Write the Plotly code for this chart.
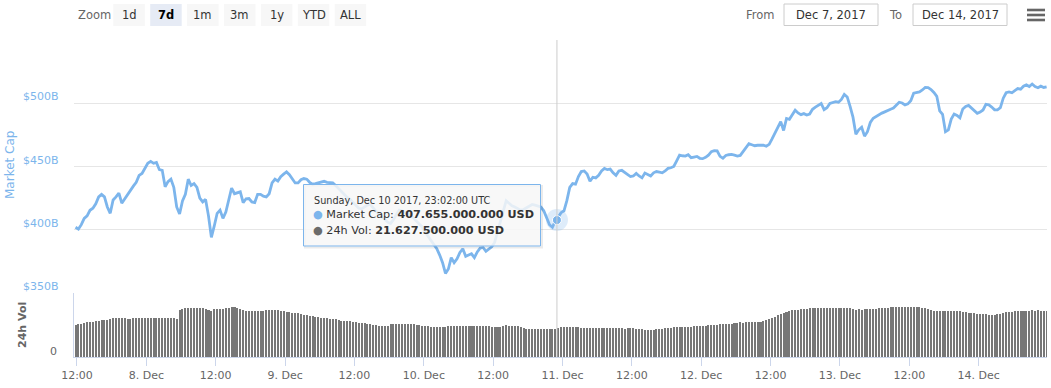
import pandas as pd
import plotly.graph_objects as go

# ---------------- data ----------------
start_time = "2017-12-07 11:45"   # first sample, 30-minute spacing

# Market cap in billions USD (30-min samples)
mcap_b = [
    402, 400.5, 404, 409, 411, 415.4, 417, 420.5, 426, 428,
    426, 418, 413, 423.5, 426, 429, 421, 424.5, 428.5, 432,
    434.5, 437.5, 443, 444.5, 449, 452.5, 454, 452.5, 453.2, 447.5,
    447, 434, 438, 440, 433.5, 418, 412.5, 422.8, 428, 440,
    435, 436.5, 433.5, 425, 422, 424, 411, 394, 403, 413,
    415.5, 409, 414, 424, 433, 428.5, 429, 430, 421.5, 424.5,
    424.7, 422, 421.5, 428, 428, 426.5, 426, 428.5, 437, 440,
    438.5, 442, 444, 445.7, 443.5, 440.5, 437, 437, 439.5, 440.5,
    440, 437.5, 436, 436.5, 437, 438, 438.3, 437.5, 437, 437,
    435, 432.5, 430.5, 428, 425.5, 424, 421.5, 419, 417, 416.5,
    418, 419.5, 420, 417, 414.5, 412.5, 410.5, 408, 406, 405,
    408, 412, 415.5, 415, 414, 413, 411.5, 409, 406.5, 404.5,
    402, 398, 394.5, 391, 388.5, 385, 380, 374, 365.5, 369,
    378, 374, 377, 382, 385, 379, 380, 381, 378, 382.5,
    385.5, 386, 383, 384.5, 386.5, 390, 398, 406, 415, 423,
    421, 419, 418, 417, 415.5, 416, 417.5, 419, 420, 419.5,
    419, 418, 415, 409, 404, 402, 407, 410, 413.5, 415,
    423, 433.5, 436.5, 436, 442, 446, 446.5, 444, 438.3, 441.5,
    441, 443, 446.5, 448.5, 447.5, 448, 445, 443, 446.5, 447,
    445.5, 444, 442, 442.5, 444.5, 442.5, 441, 444.8, 443.5, 442.5,
    445, 446, 445.5, 445, 446.5, 448.5, 449, 450, 454.5, 459,
    458.5, 458.2, 459.3, 457, 457.5, 458, 456.5, 456.2, 457.2, 459,
    461.7, 462.5, 462.3, 458, 456.5, 458.7, 459.3, 459.5, 459, 458.3,
    458.8, 462, 465.8, 468, 467.2, 466.4, 466.8, 467, 466.8, 466,
    467.5, 471.8, 476, 481, 485.5, 478.5, 488, 487.3, 490.5, 494.5,
    492.3, 491, 491.8, 490.7, 491.5, 495.2, 497, 498.7, 499.8, 495,
    496.5, 499.8, 500.7, 501.2, 500.8, 503, 507, 505, 497.5, 489,
    475.5, 479, 481, 474, 477.5, 484.8, 488.2, 489.7, 491, 492.2,
    493.2, 494.5, 495.3, 496.2, 498.5, 500.8, 500.2, 498.7, 499.5, 502,
    508, 508.5, 509, 510.5, 512.5, 512.3, 510.8, 508.5, 505.5, 494,
    491.2, 477.5, 479, 487.5, 491.5, 490.3, 488.5, 495.5, 497.5, 498.3,
    496, 493.9, 492, 493, 494.7, 499.2, 498.7, 497, 494.8, 494.7,
    496.5, 504, 508.3, 509, 508.3, 510, 511.6, 511.1, 513.5, 514.5,
    513.2, 515.2, 513.2, 512.3, 513.5, 512.5, 513,
]

# 24h volume in billions USD (30-min samples)
vol_b = [
    25.3, 25.6, 25.8, 26.4,
    27.2, 27.5, 27.6, 27.8, 28.0,
    28.6, 28.8, 28.8,
    29.6, 30.1, 30.1, 30.4, 30.3,
    30.1, 29.6, 30.0, 30.4, 30.2, 30.2, 30.6, 30.3, 30.1, 30.2,
    30.2, 30.1, 30.2, 30.6, 30.8, 30.8, 30.6, 30.5, 29.9,
    36.6,
    37.6, 38.2, 38.6, 38.5, 38.2, 38.0, 37.9, 38.1, 37.6,
    36.6, 35.8,
    37.2, 37.5, 37.4, 37.6, 37.9,
    38.3, 38.7, 38.8, 38.3,
    37.4, 36.8, 36.3, 36.1, 36.1,
    36.0, 36.3, 36.1, 36.0, 36.6, 36.8, 36.6, 36.5, 36.4, 36.3, 35.9, 35.5,
    34.9, 34.4, 34.4, 34.1, 33.6,
    33.0, 32.8, 32.4, 31.7, 31.4,
    30.9, 30.6, 30.5, 30.4, 29.9, 29.6, 29.4,
    29.0, 28.5, 28.3, 28.3, 28.1, 27.6, 27.3,
    26.9, 26.4, 26.4, 26.1,
    25.5, 25.2, 24.8, 24.6, 24.5, 24.3, 24.6,
    25.6, 25.8, 25.6,
    25.8, 25.8, 25.7, 25.9, 25.8, 25.6, 25.2, 24.9, 24.6, 24.3,
    23.9, 23.6, 23.5, 23.5, 23.8, 23.6, 23.7,
    24.2, 24.4, 24.1, 24.3, 24.4, 24.5, 24.2, 24.4, 24.5, 24.3, 24.2, 24.6, 24.5, 24.2, 24.0, 23.8,
    23.3, 23.1, 23.5,
    24.3, 25.0, 24.6, 24.4, 24.6, 24.2,
    23.2, 22.5, 22.0, 21.8, 21.7, 21.7, 21.6, 21.7, 21.7, 21.6, 21.6, 21.6,
    21.7, 22.8, 23.1, 23.3, 23.4, 23.6, 23.8, 23.5, 23.2,
    22.8, 22.7, 22.6, 22.6, 22.6, 22.6, 22.7, 22.6, 22.6, 22.4, 22.6,
    22.3, 22.6, 22.4, 22.5, 22.2, 22.4, 22.3, 22.4, 22.0, 21.8,
    21.5, 21.4, 21.3, 21.4, 21.4, 21.6, 21.9, 22.2, 22.6,
    22.9, 23.0, 23.2, 23.2, 23.3, 23.4, 23.4, 23.5, 23.7,
    24.0, 24.2, 24.5, 24.5, 24.6, 24.8, 24.9, 25.2, 25.3, 25.4, 25.6,
    25.7, 25.8, 25.6,
    26.2, 26.6, 27.0, 26.9, 27.0, 27.1, 27.0, 27.2, 27.3, 27.5, 27.9,
    28.6, 29.4, 30.4, 31.5, 32.6, 33.5, 34.5,
    35.4, 35.9, 36.4, 36.8, 37.1, 37.4, 37.6,
    37.8, 38.0, 38.1, 38.1, 38.0, 38.1, 38.0, 38.1, 38.2, 38.1, 38.0, 38.1, 38.0, 38.1, 38.3, 38.0,
    37.2, 37.0, 37.3, 37.1, 37.4, 37.5, 37.4, 37.6, 37.8, 37.9, 38.1, 38.0,
    38.6, 38.9, 39.0, 39.3, 39.4, 39.3, 39.3, 39.4, 39.3, 39.2, 39.1, 38.8, 38.6,
    37.9, 37.2, 36.6, 36.2, 35.9, 35.6, 35.8,
    35.9, 35.9, 36.0, 35.9, 35.8, 35.6, 35.3, 34.9, 34.6,
    34.3, 34.0, 33.8, 33.6, 33.9, 33.4, 33.2, 33.1, 33.0, 33.3, 33.6,
    34.3, 34.8, 35.2, 35.5, 35.8, 35.9, 35.9, 36.1, 36.2, 36.3, 36.4, 36.3, 36.4, 36.3, 36.2, 36.0,
]

hover_time = "2017-12-10 23:02:00"
hover_mcap = 407655000000
hover_vol = 21627500000

y_ticks = [350, 400, 450, 500, 550]
y_tick_labels = ["$350B", "$400B", "$450B", "$500B", ""]
x_tick_times = ["2017-12-07 12:00", "2017-12-08 00:00", "2017-12-08 12:00", "2017-12-09 00:00",
                "2017-12-09 12:00", "2017-12-10 00:00", "2017-12-10 12:00", "2017-12-11 00:00",
                "2017-12-11 12:00", "2017-12-12 00:00", "2017-12-12 12:00", "2017-12-13 00:00",
                "2017-12-13 12:00", "2017-12-14 00:00"]
x_tick_labels = ["12:00", "8. Dec", "12:00", "9. Dec", "12:00", "10. Dec", "12:00", "11. Dec",
                 "12:00", "12. Dec", "12:00", "13. Dec", "12:00", "14. Dec"]
x_range = ["2017-12-07 11:29", "2017-12-14 11:49"]
zoom_buttons = ["1d", "7d", "1m", "3m", "1y", "YTD", "ALL"]
selected_button = "7d"
from_date = "Dec 7, 2017"
to_date = "Dec 14, 2017"

# ---------------- geometry helpers ----------------
W, H = 1051, 388
L, R, T, B = 74, 4, 40, 31
PW, PH = W - L - R, H - T - B


def px(x):
    return (x - L) / PW


def py(y):
    return (H - B - y) / PH


split = py(293)
FONT = "DejaVu Sans"
BLUE = "#7cb5ec"

mcap_times = pd.date_range(start_time, periods=len(mcap_b), freq="30min")
vol_times = pd.date_range(start_time, periods=len(vol_b), freq="30min")

fig = go.Figure()
fig.add_trace(go.Bar(x=vol_times, y=vol_b, yaxis="y2", marker_color="#777777",
                     marker_line_width=0, width=21 * 60 * 1000, name="24h Vol"))
fig.add_trace(go.Scatter(x=mcap_times, y=mcap_b, mode="lines", yaxis="y",
                         line=dict(color=BLUE, width=2.8), name="Market Cap"))
# hovered point (halo + dot)
fig.add_trace(go.Scatter(x=[pd.Timestamp(hover_time)], y=[hover_mcap / 1e9], mode="markers",
                         marker=dict(size=22, color="rgba(124,181,236,0.25)"), yaxis="y"))
fig.add_trace(go.Scatter(x=[pd.Timestamp(hover_time)], y=[hover_mcap / 1e9], mode="markers",
                         marker=dict(size=9, color=BLUE, line=dict(color="white", width=1)),
                         yaxis="y"))

shapes = []
annotations = []

# crosshair
shapes.append(dict(type="line", xref="x", yref="paper", x0=hover_time, x1=hover_time,
                   y0=0, y1=1, line=dict(color="#cccccc", width=1), layer="above"))

# y labels (placed above gridlines)
for v, lbl in zip(y_ticks, y_tick_labels):
    if lbl:
        annotations.append(dict(text=lbl, xref="paper", yref="y", x=px(60.5), y=v,
                                xanchor="right", yanchor="middle", yshift=6.5, showarrow=False,
                                font=dict(family=FONT, size=11, color=BLUE)))
annotations.append(dict(text="0", xref="paper", yref="y2", x=px(58.5), y=0, xanchor="right",
                        yanchor="middle", yshift=6, showarrow=False,
                        font=dict(family=FONT, size=11, color="#666666")))
annotations.append(dict(text="Market Cap", xref="paper", yref="paper", x=px(10), y=py(165),
                        textangle=-90, showarrow=False, xanchor="center", yanchor="middle",
                        font=dict(family=FONT, size=12, color=BLUE)))
annotations.append(dict(text="<b>24h Vol</b>", xref="paper", yref="paper", x=px(22), y=py(325),
                        textangle=-90, showarrow=False, xanchor="center", yanchor="middle",
                        font=dict(family=FONT, size=11, color="#666666")))

# ---- range selector toolbar ----
annotations.append(dict(text="Zoom", xref="paper", yref="paper", x=px(76), y=py(15),
                        xanchor="left", yanchor="middle", showarrow=False,
                        font=dict(family=FONT, size=11.5, color="#666666")))
for i, b in enumerate(zoom_buttons):
    x0 = 113.3 + 36.9 * i
    sel = b == selected_button
    shapes.append(dict(type="rect", xref="paper", yref="paper", x0=px(x0), x1=px(x0 + 31.5),
                       y0=py(26), y1=py(4), fillcolor="#e6ebf5" if sel else "#f7f7f7",
                       line=dict(width=0), layer="above"))
    annotations.append(dict(text=f"<b>{b}</b>" if sel else b, xref="paper", yref="paper",
                            x=px(x0 + 15.75), y=py(15), xanchor="center", yanchor="middle",
                            showarrow=False,
                            font=dict(family=FONT, size=11.5, color="#000000" if sel else "#333333")))

annotations.append(dict(text="From", xref="paper", yref="paper", x=px(777), y=py(15),
                        xanchor="right", yanchor="middle", showarrow=False,
                        font=dict(family=FONT, size=11.5, color="#666666")))
shapes.append(dict(type="rect", xref="paper", yref="paper", x0=px(784), x1=px(878),
                   y0=py(25.5), y1=py(4), fillcolor="white", line=dict(color="#cccccc", width=1),
                   layer="above"))
annotations.append(dict(text=from_date, xref="paper", yref="paper", x=px(831), y=py(15),
                        xanchor="center", yanchor="middle", showarrow=False,
                        font=dict(family=FONT, size=11.5, color="#333333")))
annotations.append(dict(text="To", xref="paper", yref="paper", x=px(904), y=py(15),
                        xanchor="right", yanchor="middle", showarrow=False,
                        font=dict(family=FONT, size=11.5, color="#666666")))
shapes.append(dict(type="rect", xref="paper", yref="paper", x0=px(913), x1=px(1007),
                   y0=py(25.5), y1=py(4), fillcolor="white", line=dict(color="#cccccc", width=1),
                   layer="above"))
annotations.append(dict(text=to_date, xref="paper", yref="paper", x=px(960), y=py(15),
                        xanchor="center", yanchor="middle", showarrow=False,
                        font=dict(family=FONT, size=11.5, color="#333333")))
for yy in (10, 15, 20):
    shapes.append(dict(type="line", xref="paper", yref="paper", x0=px(1027), x1=px(1045),
                       y0=py(yy), y1=py(yy), line=dict(color="#666666", width=2.6), layer="above"))

# ---- tooltip ----
tx0, tx1, ty0, ty1 = 303.5, 540.5, 184.5, 246
shapes.append(dict(type="rect", xref="paper", yref="paper", x0=px(tx0 + 1.5), x1=px(tx1 + 1.5),
                   y0=py(ty1 + 1.5), y1=py(ty0 + 1.5), fillcolor="rgba(0,0,0,0)",
                   line=dict(color="rgba(0,0,0,0.08)", width=2), layer="above"))
shapes.append(dict(type="rect", xref="paper", yref="paper", x0=px(tx0), x1=px(tx1),
                   y0=py(ty1), y1=py(ty0), fillcolor="rgba(247,247,247,0.85)",
                   line=dict(color=BLUE, width=1), layer="above"))
ht = pd.Timestamp(hover_time)
header = f"{ht:%A, %b} {ht.day} {ht:%Y, %H:%M:%S} UTC"
fmt = lambda v: f"{v:,.0f}".replace(",", ".")
annotations.append(dict(text=header, xref="paper", yref="paper", x=px(311.5), y=py(201),
                        xanchor="left", yanchor="middle", showarrow=False,
                        font=dict(family=FONT, size=9.7, color="#333333")))
annotations.append(dict(text=f'<span style="color:{BLUE}">●</span> Market Cap: <b>{fmt(hover_mcap)} USD</b>',
                        xref="paper", yref="paper", x=px(311), y=py(214.5), xanchor="left",
                        yanchor="middle", showarrow=False,
                        font=dict(family=FONT, size=11.2, color="#333333")))
annotations.append(dict(text=f'<span style="color:#6b6b6b">●</span> 24h Vol: <b>{fmt(hover_vol)} USD</b>',
                        xref="paper", yref="paper", x=px(311), y=py(230), xanchor="left",
                        yanchor="middle", showarrow=False,
                        font=dict(family=FONT, size=11.2, color="#333333")))

fig.update_layout(
    width=W, height=H, margin=dict(l=L, r=R, t=T, b=B),
    paper_bgcolor="white", plot_bgcolor="white", showlegend=False, hovermode=False,
    bargap=0,
    font=dict(family=FONT, color="#666666"),
    xaxis=dict(type="date", range=x_range, anchor="y2", tickvals=x_tick_times,
               ticktext=x_tick_labels, ticks="outside", ticklen=8, tickcolor="#ccd6eb",
               showline=True, linecolor="#ccd6eb", linewidth=1, showgrid=False, zeroline=False,
               tickfont=dict(family=FONT, size=11, color="#666666")),
    yaxis=dict(domain=[split, 1], range=[350, 550], tickvals=y_ticks, showticklabels=False,
               gridcolor="#e6e6e6", gridwidth=1, zeroline=False, showline=False, anchor="x"),
    yaxis2=dict(domain=[0, split], range=[0, 50], showticklabels=False, showgrid=False,
                showline=True, linecolor="#ccd6eb", zeroline=False, anchor="x"),
    shapes=shapes, annotations=annotations,
)

fig.write_html("out.html", config={"displayModeBar": False, "staticPlot": True},
               post_script="document.body.style.margin='0';document.body.style.overflow='hidden';")
